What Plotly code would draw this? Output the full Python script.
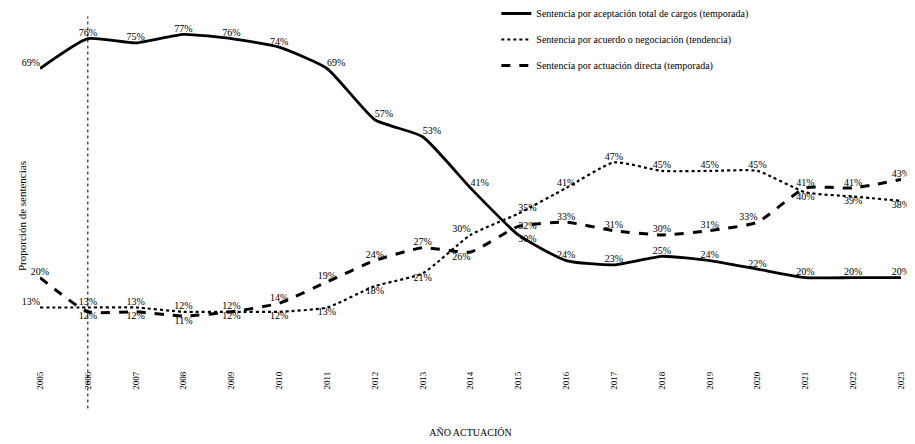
import plotly.graph_objects as go

years = list(range(2005, 2024))
year_labels = [str(y) for y in years]

aceptacion = [69, 76, 75, 77, 76, 74, 69, 57, 53, 41, 30, 24, 23, 25, 24, 22, 20, 20, 20]
acuerdo = [13, 13, 13, 12, 12, 12, 13, 18, 21, 30, 35, 41, 47, 45, 45, 45, 40, 39, 38]
directa = [20, 12, 12, 11, 12, 14, 19, 24, 27, 26, 32, 33, 31, 30, 31, 33, 41, 41, 43]

names = [
    "Sentencia por aceptación total de cargos (temporada)",
    "Sentencia por acuerdo o negociación (tendencia)",
    "Sentencia por actuación directa (temporada)",
]

pos_acept = ["top center"] * 10 + ["bottom right"] + ["top center"] * 8
pos_acept[0] = "top left"
for i in (6, 7, 8, 9):
    pos_acept[i] = "top right"

pos_acu = (["top left"] + ["top center"] * 4 + ["bottom center"] * 4 + ["top left", "top right"]
           + ["top center"] * 5 + ["bottom center"] * 3)
pos_dir = (["top center"] + ["bottom center"] * 4 + ["top center"] * 4 + ["bottom left", "middle right"]
           + ["top center"] * 4 + ["top left"] + ["top center"] * 3)

font_family = "Liberation Serif, Times New Roman, serif"

fig = go.Figure()

series = [
    (aceptacion, names[0], dict(color="black", width=2.8, dash="solid"), pos_acept),
    (acuerdo, names[1], dict(color="black", width=2.2, dash="dot"), pos_acu),
    (directa, names[2], dict(color="black", width=3, dash="dash"), pos_dir),
]

for i, (vals, nm, ln, pos) in enumerate(series):
    fig.add_trace(go.Scatter(
        x=years, y=vals, name=nm, mode="lines+text",
        line=dict(shape="spline", smoothing=0.5, **ln),
        text=[f"{v}%" for v in vals], textposition=pos,
        textfont=dict(family=font_family, size=10, color="black"),
        cliponaxis=False, legendgroup=f"g{i}",
    ))

fig.add_shape(type="line", xref="x", yref="paper", x0=2006, x1=2006, y0=-0.13, y1=0.99,
              line=dict(color="black", width=1, dash="dot"))

fig.add_annotation(text="Proporción de sentencias", xref="paper", yref="paper",
                   x=0, y=0.42, xshift=-26, textangle=-90, showarrow=False,
                   font=dict(family=font_family, size=11, color="black"))

fig.update_layout(
    width=915, height=444,
    margin=dict(l=32, r=22, t=5, b=89, autoexpand=False),
    paper_bgcolor="white", plot_bgcolor="white",
    font=dict(family=font_family, color="black"),
    showlegend=True,
    legend=dict(x=0.53, y=1.04, xanchor="left", yanchor="top",
                font=dict(family=font_family, size=10, color="black"),
                bgcolor="rgba(0,0,0,0)", traceorder="grouped", tracegroupgap=7),
    xaxis=dict(range=[2005, 2023], tickmode="array", tickvals=years, ticktext=year_labels,
               tickangle=-90, showgrid=False, zeroline=False, showline=False,
               ticks="", ticklabelstandoff=6, automargin=False,
               tickfont=dict(family=font_family, size=9, color="black"),
               title=dict(text="AÑO ACTUACIÓN", standoff=40,
                          font=dict(family=font_family, size=10, color="black"))),
    yaxis=dict(range=[0, 82], showgrid=False, zeroline=False, showline=False,
               showticklabels=False, ticks="", automargin=False),
)

fig.write_html("out.html")
